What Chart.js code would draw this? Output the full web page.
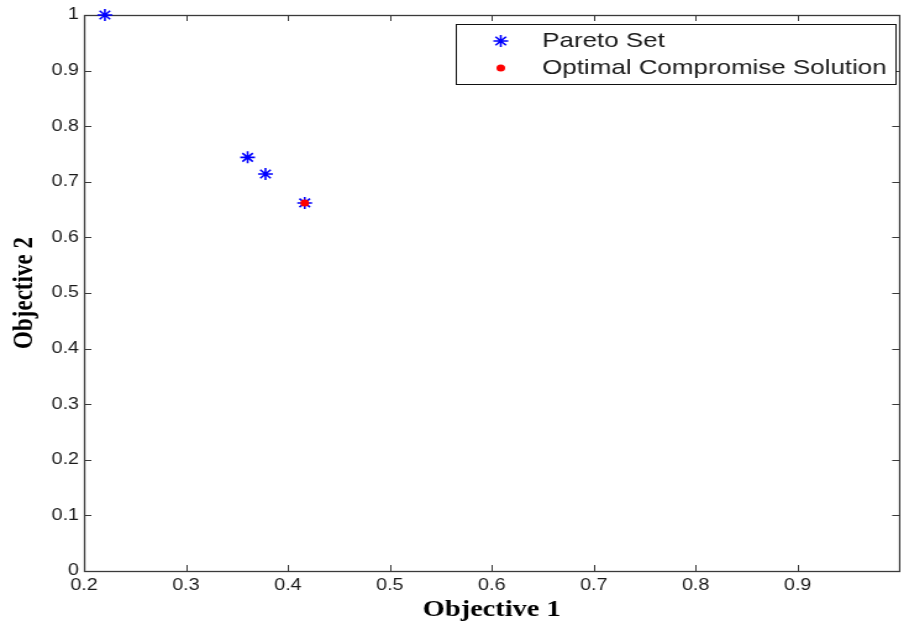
<!DOCTYPE html>
<html>
<head>
<meta charset="utf-8">
<script src="https://cdn.jsdelivr.net/npm/chart.js@4/dist/chart.umd.min.js"></script>
<style>
  html, body { margin: 0; padding: 0; background: #fff; overflow: hidden; }
  /* the source figure is stretched sideways, so stretch the whole canvas the same way */
  #wrap { width: 736px; height: 627px; transform: scaleX(1.235); transform-origin: 0 0; }
</style>
</head>
<body>
<div id="wrap"><canvas id="chart" width="736" height="627"></canvas></div>
<script>
const paretoX = [0.2205, 0.3605, 0.378, 0.4165];
const paretoY = [1.0, 0.744, 0.714, 0.662];
const compromiseX = [0.4165];
const compromiseY = [0.662];

const xTicks = [0.2, 0.3, 0.4, 0.5, 0.6, 0.7, 0.8, 0.9, 1.0];
const xTickLabels = ['0.2', '0.3', '0.4', '0.5', '0.6', '0.7', '0.8', '0.9', ''];
const yTicks = [0, 0.1, 0.2, 0.3, 0.4, 0.5, 0.6, 0.7, 0.8, 0.9, 1.0];
const yTickLabels = ['0', '0.1', '0.2', '0.3', '0.4', '0.5', '0.6', '0.7', '0.8', '0.9', '1'];

const axisColor = '#3a3a3a';
const textColor = '#1a1a1a';

// matlab-ish box with ticks pointing inward on all four sides
const framePlugin = {
  id: 'frame',
  beforeDatasetsDraw(chart) {
    const { ctx, chartArea: a, scales } = chart;
    const tl = 6;
    ctx.save();
    ctx.strokeStyle = axisColor;
    ctx.lineWidth = 1;
    ctx.beginPath();
    xTicks.forEach(v => {
      const px = Math.round(scales.x.getPixelForValue(v)) + 0.5;
      ctx.moveTo(px, a.bottom); ctx.lineTo(px, a.bottom - tl);
      ctx.moveTo(px, a.top); ctx.lineTo(px, a.top + tl);
    });
    yTicks.forEach(v => {
      const py = Math.round(scales.y.getPixelForValue(v)) + 0.5;
      ctx.moveTo(a.left, py); ctx.lineTo(a.left + tl, py);
      ctx.moveTo(a.right, py); ctx.lineTo(a.right - tl, py);
    });
    ctx.stroke();
    ctx.lineWidth = 1.3;
    ctx.strokeRect(Math.round(a.left) + 0.5, Math.round(a.top) + 0.5,
      Math.round(a.right - a.left), Math.round(a.bottom - a.top));
    ctx.restore();
  }
};

const boxLegend = {
  id: 'boxLegend',
  afterDraw(chart) {
    const { ctx } = chart;
    const box = { left: 369, top: 24, right: 725, bottom: 84 };
    const rows = [41, 68];
    ctx.save();
    ctx.fillStyle = '#fff';
    ctx.fillRect(box.left, box.top, box.right - box.left, box.bottom - box.top);
    ctx.strokeStyle = '#111';
    ctx.lineWidth = 1;
    ctx.strokeRect(box.left + 0.5, box.top + 0.5, box.right - box.left, box.bottom - box.top);
    chart.data.datasets.forEach((ds, i) => {
      ctx.fillStyle = ds.backgroundColor;
      ctx.strokeStyle = ds.borderColor;
      ctx.lineWidth = ds.borderWidth;
      Chart.helpers.drawPoint(ctx, {
        pointStyle: ds.pointStyle,
        radius: ds.pointRadius,
        borderWidth: ds.borderWidth,
        rotation: 0
      }, 405.5, rows[i]);
      ctx.fillStyle = textColor;
      ctx.font = '21px "Liberation Sans", Arial, sans-serif';
      ctx.textBaseline = 'middle';
      ctx.textAlign = 'left';
      ctx.fillText(ds.label, 439, rows[i]);
    });
    ctx.restore();
  }
};

new Chart(document.getElementById('chart'), {
  type: 'scatter',
  data: {
    datasets: [
      {
        label: 'Pareto Set',
        data: paretoX.map((x, i) => ({ x, y: paretoY[i] })),
        pointStyle: 'star',
        pointRadius: 6,
        borderWidth: 1.6,
        borderColor: '#0000ff',
        backgroundColor: '#0000ff',
        order: 2,
        clip: false
      },
      {
        label: 'Optimal Compromise Solution',
        data: compromiseX.map((x, i) => ({ x, y: compromiseY[i] })),
        pointStyle: 'circle',
        pointRadius: 3.5,
        borderWidth: 0,
        borderColor: '#ff0000',
        backgroundColor: '#ff0000',
        order: 1,
        clip: false
      }
    ]
  },
  options: {
    responsive: false,
    animation: false,
    events: [],
    layout: { padding: { top: 15, right: 4, left: 0, bottom: 0 } },
    plugins: { legend: { display: false }, tooltip: { enabled: false } },
    scales: {
      x: {
        type: 'linear',
        min: 0.2,
        max: 1.0,
        afterBuildTicks: s => { s.ticks = xTicks.map(v => ({ value: v })); },
        afterFit: s => { s.height = 56; },
        grid: { display: false, drawTicks: false },
        border: { display: false },
        ticks: {
          padding: 5,
          maxRotation: 0,
          autoSkip: false,
          color: textColor,
          font: { family: '"Liberation Sans", Arial, sans-serif', size: 16 },
          callback: (v, i) => xTickLabels[i]
        },
        title: {
          display: true,
          text: 'Objective 1',
          color: '#000',
          padding: { top: 0, bottom: 3 },
          font: { family: '"Liberation Serif", "Times New Roman", serif', size: 23, weight: 'bold' }
        }
      },
      y: {
        type: 'linear',
        min: 0,
        max: 1,
        afterBuildTicks: s => { s.ticks = yTicks.map(v => ({ value: v })); },
        afterFit: s => { s.width = 68; },
        grid: { display: false, drawTicks: false },
        border: { display: false },
        ticks: {
          padding: 4,
          autoSkip: false,
          color: textColor,
          font: { family: '"Liberation Sans", Arial, sans-serif', size: 16 },
          callback: (v, i) => yTickLabels[i]
        },
        title: {
          display: true,
          text: 'Objective 2',
          color: '#000',
          padding: { top: 6, bottom: 0 },
          font: { family: '"Liberation Serif", "Times New Roman", serif', size: 23, weight: 'bold' }
        }
      }
    }
  },
  plugins: [framePlugin, boxLegend]
});
</script>
</body>
</html>
